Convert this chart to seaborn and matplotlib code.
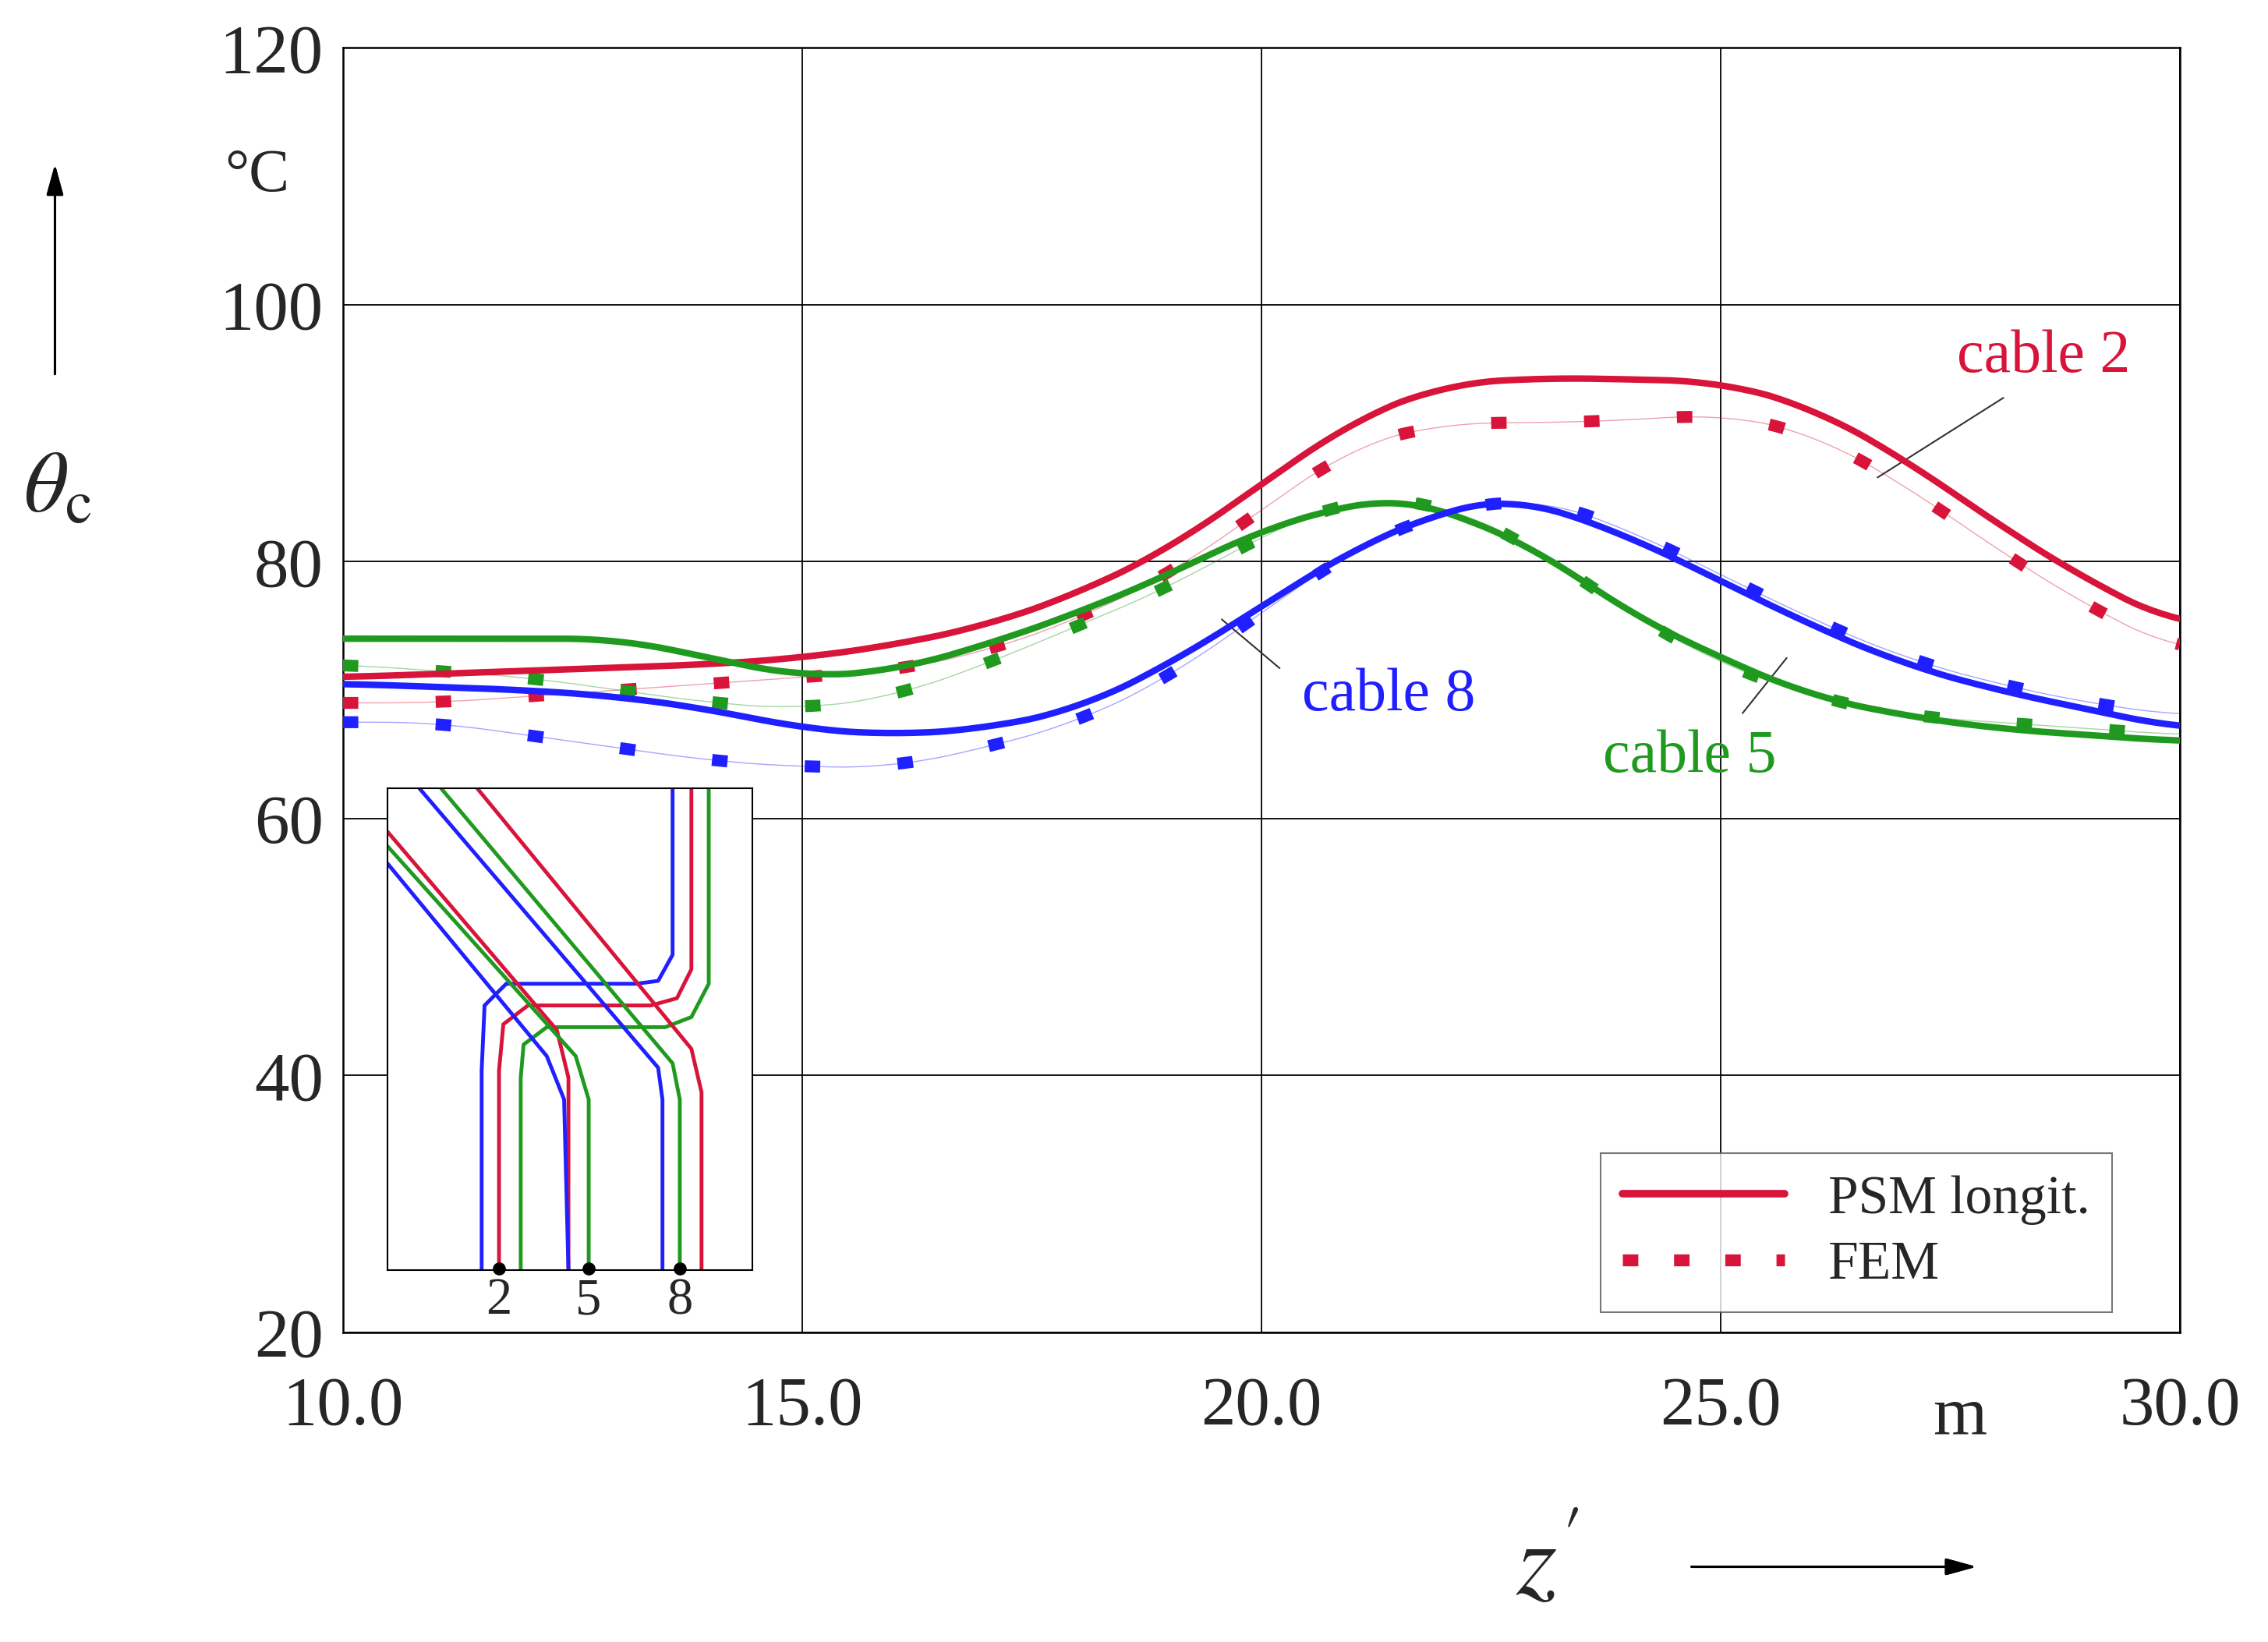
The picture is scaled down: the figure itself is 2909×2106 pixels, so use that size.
import matplotlib
matplotlib.use("Agg")
import matplotlib.pyplot as plt
import seaborn as sns
import numpy as np
from matplotlib.lines import Line2D

sns.set_theme(style="white")
plt.rcParams['font.family'] = ['Liberation Serif', 'DejaVu Serif']
plt.rcParams['mathtext.fontset'] = 'stix'

RED, GREEN, BLUE = "#d8143a", "#1f9a1f", "#1f1fff"

red_psm_x = [10, 12, 14, 15, 16, 17, 18, 19, 20, 21, 22, 23, 24, 25, 26, 27, 28, 29, 30]
red_psm_y = [71, 71.5, 72, 72.5, 73.5, 75, 77.5, 81, 86, 91, 93.8, 94.3, 94.2, 94, 92, 88, 83, 78.5, 75]
red_fem_x = [10, 11, 12, 13, 14, 15, 16, 17, 18, 19, 20, 21, 22, 23, 24, 25, 26, 27, 28, 29, 30]
red_fem_y = [69, 69, 69.5, 70, 70.5, 71, 71.5, 73, 75.5, 79, 84, 89, 90.8, 90.8, 91, 91.5, 90, 86, 81, 76.5, 73]
green_psm_x = [10, 12, 13, 14, 15, 16, 17, 18, 19, 20, 21, 21.5, 22, 23, 24, 25, 26, 27, 28, 29, 30]
green_psm_y = [74, 74, 74, 72.5, 71, 71.5, 73.5, 76, 79, 82.5, 84.5, 85, 84, 81, 76, 72.5, 69.5, 68, 67, 66.5, 66]
green_fem_x = [10, 11, 12, 13, 14, 15, 16, 17, 18, 19, 20, 21, 22, 23, 24, 25, 26, 27, 28, 29, 30]
green_fem_y = [72, 71.5, 71, 70, 69, 68.5, 69.5, 72, 75, 78, 82, 85, 84.5, 81, 76, 72, 69.5, 68, 67.5, 67, 66.5]
blue_psm_x = [10, 12, 13, 14, 15, 16, 17, 18, 19, 20, 21, 22, 22.7, 23, 24, 25, 26, 27, 28, 29, 30]
blue_psm_y = [70.5, 70, 69.5, 68.5, 67, 66.5, 67, 68.5, 72, 76.5, 81, 84, 85, 84.5, 82, 78.5, 75, 72, 70, 68.5, 67]
blue_fem_x = [10, 11, 12, 13, 14, 15, 16, 17, 18, 19, 20, 21, 22, 23, 24, 25, 26, 27, 28, 29, 30]
blue_fem_y = [67.5, 67.5, 66.5, 65.5, 64.5, 64, 64, 65.5, 67.5, 71, 76, 81, 84, 85, 82.5, 79, 75.5, 72.5, 70.5, 69, 68]

x_ticks = [10, 15, 20, 25, 30]
x_labels = ["10.0", "15.0", "20.0", "25.0", "30.0"]
y_ticks = [20, 40, 60, 80, 100, 120]

W, H = 1568, 1135
fig = plt.figure(figsize=(29.09, 21.06), dpi=100)
ax = fig.add_axes([237/W, 1-921/H, 1270/W, 888/H])

def smooth(xs, ys):
    xx = np.linspace(xs[0], xs[-1], 400)
    yy = np.interp(xx, xs, ys)
    k = np.ones(25)/25
    yp = np.pad(yy, 12, mode='edge')
    return xx, np.convolve(yp, k, mode='valid')

for xs, ys, c in [(red_psm_x, red_psm_y, RED), (green_psm_x, green_psm_y, GREEN), (blue_psm_x, blue_psm_y, BLUE)]:
    xx, yy = smooth(xs, ys)
    sns.lineplot(x=xx, y=yy, ax=ax, color=c, lw=6, zorder=4)
for xs, ys, c in [(red_fem_x, red_fem_y, RED), (green_fem_x, green_fem_y, GREEN), (blue_fem_x, blue_fem_y, BLUE)]:
    xx, yy = smooth(xs, ys)
    sns.lineplot(x=xx, y=yy, ax=ax, color=c, lw=1, alpha=0.4, zorder=3)
    ax.plot(xx, yy, color=c, lw=11, linestyle=(0, (1.3, 6.5)), zorder=3, solid_capstyle='butt')

ax.set_xlim(10, 30)
ax.set_ylim(20, 120)
ax.set_xticks(x_ticks)
ax.set_xticklabels(x_labels)
ax.set_yticks(y_ticks)
ax.tick_params(axis='both', labelsize=64, length=0, width=1.5)
ax.tick_params(axis='x', pad=40)
ax.tick_params(axis='y', pad=18)
ax.grid(True, color='black', lw=1.3)
for s in ax.spines.values():
    s.set_color('black'); s.set_linewidth(1.8)
ax.set_xlabel(""); ax.set_ylabel("")

ax.text(28.52, 95.9, "cable 2", color=RED, fontsize=56, ha='center', va='center')
ax.plot([28.08, 26.71], [92.75, 86.55], color='#333333', lw=1.5)
ax.text(21.39, 69.55, "cable 8", color=BLUE, fontsize=56, ha='center', va='center')
ax.plot([20.2, 19.57], [71.7, 75.5], color='#333333', lw=1.5)
ax.text(24.66, 64.8, "cable 5", color=GREEN, fontsize=56, ha='center', va='center')
ax.plot([25.24, 25.72], [68.2, 72.5], color='#333333', lw=1.5)

handles = [Line2D([], [], color=RED, lw=7), Line2D([], [], color=RED, lw=11, linestyle=(0, (1.3, 3)))]
leg = ax.legend(handles, ["PSM longit.", "FEM"], loc='lower right', fontsize=50,
                bbox_to_anchor=(1460/W, 1-907/H), bbox_transform=fig.transFigure,
                frameon=True, fancybox=False, edgecolor='#555555', handlelength=3.0,
                borderaxespad=0.0, labelspacing=0.3, borderpad=0.4)
leg.get_frame().set_linewidth(1.5)

fig.text(1355/W, 1-980/H, "m", fontsize=64, ha='center', va='center')
fig.text(40/W, 1-340/H, r"$\theta_{\rm c}$", fontsize=80, ha='center', va='center')
fig.text(178/W, 1-122/H, "°C", fontsize=56, ha='center', va='center')
fig.text(1070/W, 1-1083/H, r"$z'$", fontsize=96, ha='center', va='center')
fig.add_artist(plt.annotate("", xy=(38/W, 1-112/H), xytext=(38/W, 1-260/H), xycoords='figure fraction',
                            arrowprops=dict(arrowstyle='-|>,head_length=2.0,head_width=0.55', color='black', lw=2.2)))
fig.add_artist(plt.annotate("", xy=(1368/W, 1-1083/H), xytext=(1168/W, 1-1083/H), xycoords='figure fraction',
                            arrowprops=dict(arrowstyle='-|>,head_length=2.0,head_width=0.55', color='black', lw=2.2)))

ix0, iy0, ix1, iy1 = 268, 545, 520, 878
ins = fig.add_axes([ix0/W, 1-iy1/H, (ix1-ix0)/W, (iy1-iy0)/H])
ins.set_xlim(ix0, ix1); ins.set_ylim(iy1, iy0)
ins.set_xticks([]); ins.set_yticks([])
ins.set_facecolor('white')
for s in ins.spines.values():
    s.set_color('black'); s.set_linewidth(1.5)
paths = [
    (BLUE, [(465, 545), (465, 660), (455, 678), (440, 680), (350, 680), (335, 695), (333, 740), (333, 878)]),
    (RED, [(478, 545), (478, 670), (468, 690), (450, 695), (365, 695), (348, 708), (345, 740), (345, 878)]),
    (GREEN, [(490, 545), (490, 680), (478, 703), (460, 710), (378, 710), (362, 722), (360, 745), (360, 878)]),
    (RED, [(268, 575), (385, 712), (393, 745), (393, 878)]),
    (GREEN, [(268, 585), (398, 730), (407, 760), (407, 878)]),
    (BLUE, [(268, 597), (378, 730), (390, 760), (393, 878)]),
    (BLUE, [(290, 545), (455, 738), (458, 760), (458, 878)]),
    (GREEN, [(305, 545), (465, 735), (470, 760), (470, 878)]),
    (RED, [(330, 545), (478, 725), (485, 755), (485, 878)]),
]
for c, pts in paths:
    xs, ys = zip(*pts)
    ins.plot(xs, ys, color=c, lw=3.5)
for xp, lab in [(345, "2"), (407, "5"), (470, "8")]:
    ins.plot([xp], [877], 'o', color='black', ms=11, clip_on=False, zorder=5)
    ins.text(xp, 883, lab, fontsize=48, ha='center', va='top', clip_on=False)

fig.savefig("out.png", dpi=100, facecolor='white')
